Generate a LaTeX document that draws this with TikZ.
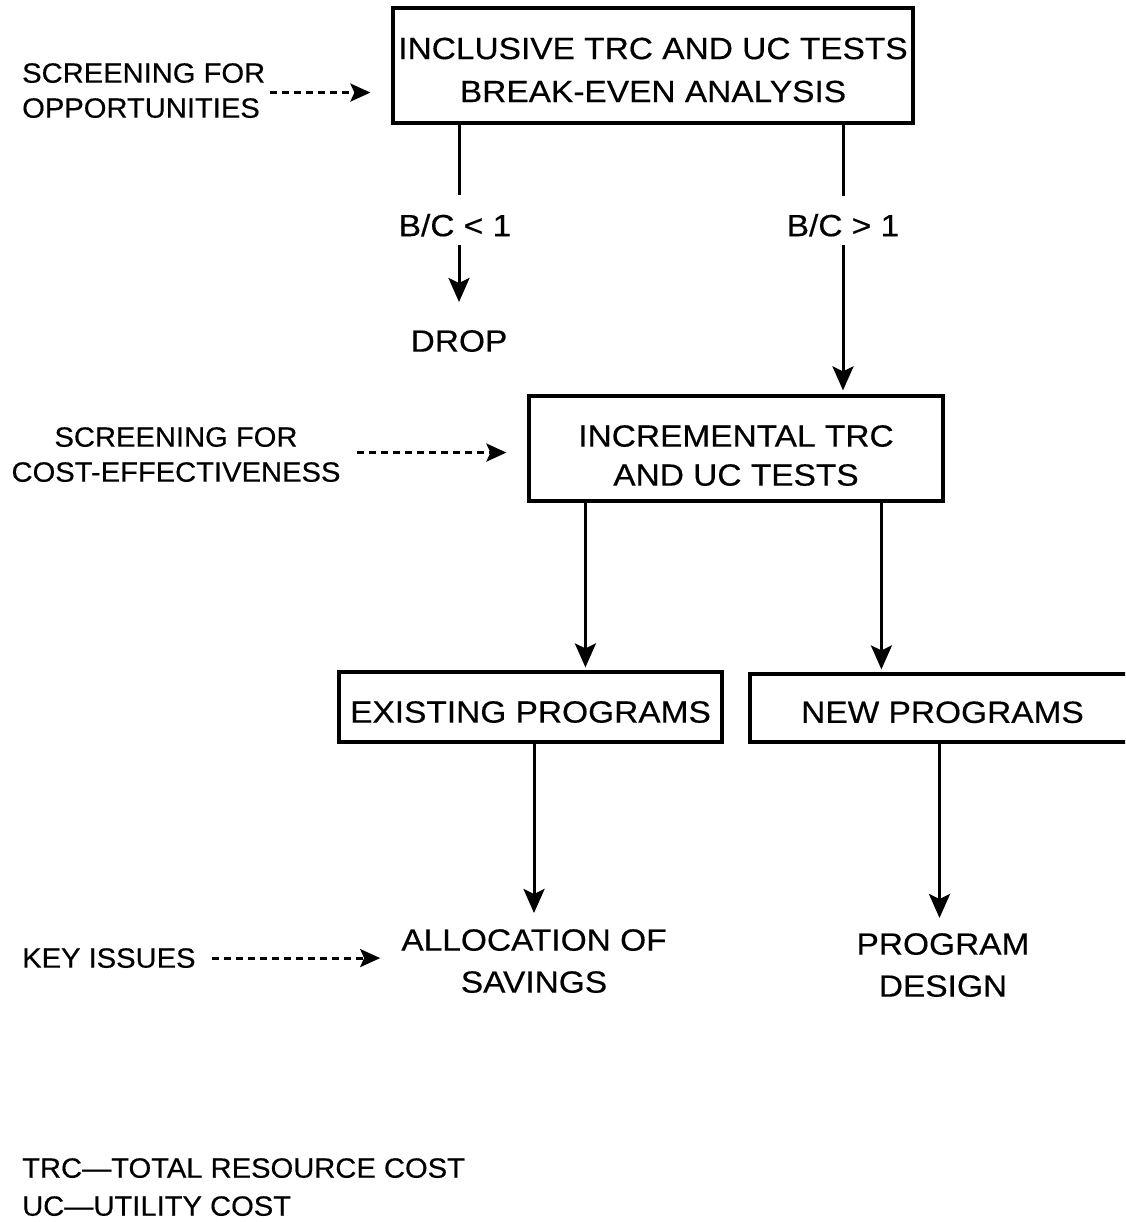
\documentclass[tikz,border=0pt]{standalone}
\usepackage{fontspec}
\setmainfont{Liberation Sans}[FakeStretch=1.045,FakeBold=0.4]
\newfontfamily\widefont{Liberation Sans}[FakeStretch=1.09,FakeBold=0.4]
\usetikzlibrary{arrows.meta}
\begin{document}
\begin{tikzpicture}[x=1pt,y=-1pt,
  box/.style={draw, line width=3.2pt, inner sep=0pt, align=center},
  big/.style={font=\widefont\fontsize{30.7}{42}\selectfont},
  small/.style={font=\fontsize{27.9}{35}\selectfont},
  lbl/.style={inner sep=0pt, align=center},
  ln/.style={line width=3pt},
  arr/.style={line width=3pt, -{Stealth[length=24pt,width=21pt,inset=5pt]}},
  dsh/.style={line width=3pt, dash pattern=on 7pt off 5pt, -{Stealth[length=20pt,width=18pt,inset=4pt]}},
]
\useasboundingbox (0,0) rectangle (1125,1222);
\clip (0,0) rectangle (1125,1222);

% boxes
\node[box, font=\widefont\fontsize{30.7}{43}\selectfont, minimum width=520, minimum height=115] (b1) at (653,65.5)
  {\rule{0pt}{30.5pt}INCLUSIVE TRC AND UC TESTS\\BREAK-EVEN ANALYSIS};
\node[box, font=\widefont\fontsize{30.7}{39}\selectfont, minimum width=414, minimum height=105] (b2) at (736,448.5)
  {\rule{0pt}{35.5pt}INCREMENTAL TRC\\AND UC TESTS};
\node[box, big, minimum width=383, minimum height=70] (b3) at (530.5,707)
  {\rule{0pt}{31.5pt}EXISTING PROGRAMS};
\node[box, big, minimum width=385, minimum height=68] (b4) at (942.5,708)
  {\rule{0pt}{30pt}NEW PROGRAMS};

% labels
\node[lbl, small, align=left, anchor=north west] (opp) at (22,63)
  {SCREENING FOR\\OPPORTUNITIES};
\node[lbl, small, anchor=north] (cef) at (176,427)
  {SCREENING FOR\\COST-EFFECTIVENESS};
\node[lbl, small, anchor=north west] (key) at (22,948) {KEY ISSUES};
\node[lbl, big, text height=22pt, text depth=0pt, anchor=north] (bcl) at (455,214) {B/C < 1};
\node[lbl, big, text height=22pt, text depth=0pt, anchor=north] (bcg) at (843,214) {B/C > 1};
\node[lbl, big, anchor=north] (drop) at (459,330) {DROP};
\node[lbl, big, anchor=north] (alloc) at (534,929) {ALLOCATION OF\\SAVINGS};
\node[lbl, big, anchor=north] (design) at (943,933) {PROGRAM\\DESIGN};
\node[lbl, small, align=left, anchor=north west, font=\fontsize{27.9}{38}\selectfont] (foot) at (22,1158)
  {TRC---TOTAL RESOURCE COST\\UC---UTILITY COST};

% coordinates on box edges
\coordinate (l1) at (b1.south -| drop.north);
\coordinate (r1) at (b1.south -| bcg.north);
\coordinate (c1) at ([xshift=58pt]b2.south west);
\coordinate (c2) at ([xshift=354pt]b2.south west);

% connectors
\draw[ln] (l1) -- ([yshift=19pt]bcl.north -| l1);
\draw[arr] ([yshift=-9pt]bcl.south -| l1) -- ([yshift=28pt]drop.north);
\draw[ln] (r1) -- ([yshift=18pt]bcg.north);
\draw[arr] ([yshift=-9pt]bcg.south) -- ([yshift=4pt]b2.north -| r1);
\draw[arr] (c1) -- ([yshift=3pt]c1 |- b3.north);
\draw[arr] (c2) -- ([yshift=3pt]c2 |- b4.north);
\draw[arr] (b3.south -| alloc.north) -- ([yshift=16pt]alloc.north);
\draw[arr] ([xshift=-3pt]b4.south) -- ([xshift=-3pt,yshift=15pt]design.north -| b4.south);

% dashed arrows
\draw[dsh, shorten <=5pt, shorten >=21pt] ([yshift=-2pt]opp.east) -- ([yshift=-2pt]opp.east -| b1.west);
\draw[dsh, shorten <=16pt, shorten >=21pt] ([yshift=2pt]cef.east) -- ([yshift=2pt]cef.east -| b2.west);
\draw[dsh, shorten <=16pt, shorten >=21pt] (key.east) -- (key.east -| alloc.west);
\end{tikzpicture}
\end{document}
